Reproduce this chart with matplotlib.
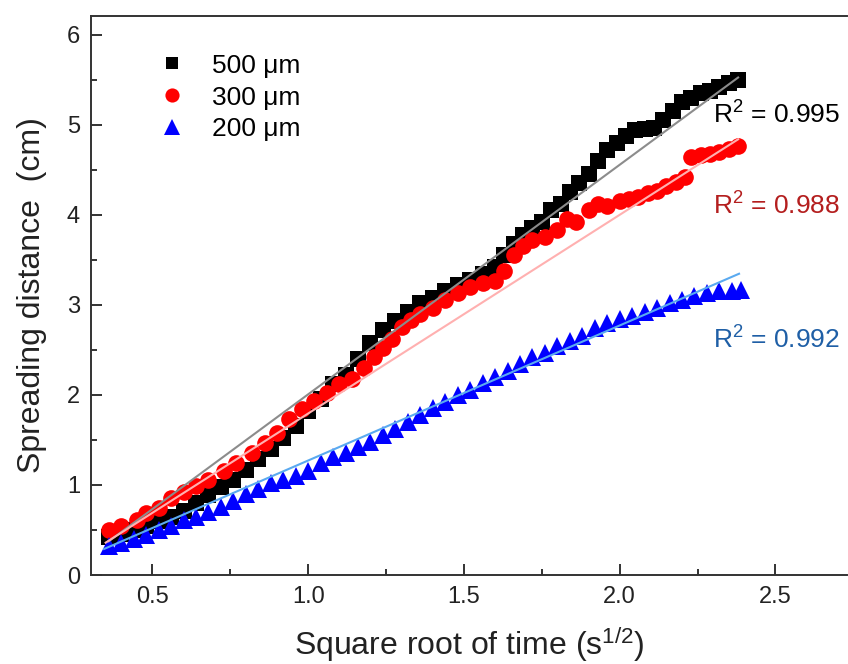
import matplotlib
matplotlib.use("Agg")
import matplotlib.pyplot as plt
import numpy as np
from matplotlib.ticker import MultipleLocator

plt.rcParams['font.family'] = ['Liberation Sans', 'DejaVu Sans']
plt.rcParams['mathtext.fontset'] = 'custom'
plt.rcParams['mathtext.rm'] = 'Liberation Sans'
plt.rcParams['mathtext.it'] = 'Liberation Sans:italic'

# 500 um (black squares)
x_500 = [0.36, 0.40, 0.44, 0.48, 0.52, 0.56, 0.60, 0.64, 0.68, 0.72, 0.76, 0.80,
         0.84, 0.88, 0.92, 0.96, 1.00, 1.04, 1.08, 1.12, 1.16, 1.20, 1.24, 1.28,
         1.32, 1.36, 1.40, 1.44, 1.48, 1.52, 1.56, 1.60, 1.63, 1.66, 1.69, 1.72,
         1.75, 1.78, 1.81, 1.84, 1.87, 1.90, 1.93, 1.96, 1.99, 2.02, 2.05, 2.08,
         2.11, 2.14, 2.17, 2.20, 2.23, 2.26, 2.29, 2.32, 2.35, 2.38]
y_500 = [0.42, 0.46, 0.50, 0.55, 0.60, 0.64, 0.71, 0.80, 0.89, 0.98, 1.06, 1.17,
         1.29, 1.40, 1.52, 1.66, 1.82, 1.96, 2.12, 2.22, 2.40, 2.58, 2.72, 2.82,
         2.92, 3.02, 3.08, 3.15, 3.22, 3.28, 3.34, 3.42, 3.55, 3.68, 3.78, 3.85,
         3.92, 4.05, 4.12, 4.25, 4.35, 4.45, 4.60, 4.72, 4.80, 4.88, 4.94, 4.95,
         4.97, 5.05, 5.15, 5.25, 5.30, 5.35, 5.38, 5.42, 5.47, 5.50]

# 300 um (red circles)
x_300 = [0.36, 0.40, 0.45, 0.48, 0.52, 0.56, 0.60, 0.64, 0.68, 0.73, 0.77, 0.82,
         0.86, 0.90, 0.94, 0.98, 1.02, 1.06, 1.10, 1.14, 1.18, 1.21, 1.24, 1.27,
         1.30, 1.33, 1.36, 1.40, 1.44, 1.48, 1.52, 1.56, 1.60, 1.63, 1.66, 1.69,
         1.72, 1.76, 1.80, 1.83, 1.86, 1.90, 1.93, 1.96, 2.00, 2.03, 2.06, 2.09,
         2.12, 2.15, 2.18, 2.21, 2.23, 2.26, 2.29, 2.32, 2.35, 2.38]
y_300 = [0.50, 0.55, 0.61, 0.69, 0.75, 0.85, 0.92, 0.99, 1.06, 1.16, 1.24, 1.36,
         1.47, 1.58, 1.73, 1.84, 1.93, 2.02, 2.12, 2.18, 2.30, 2.42, 2.52, 2.62,
         2.75, 2.83, 2.90, 2.97, 3.05, 3.13, 3.20, 3.24, 3.27, 3.38, 3.55, 3.65,
         3.72, 3.75, 3.83, 3.95, 3.92, 4.05, 4.12, 4.10, 4.15, 4.18, 4.20, 4.24,
         4.27, 4.32, 4.36, 4.42, 4.64, 4.66, 4.68, 4.70, 4.73, 4.76]

# 200 um (blue triangles)
x_200 = [0.36, 0.40, 0.44, 0.48, 0.52, 0.56, 0.60, 0.64, 0.68, 0.72, 0.76, 0.80,
         0.84, 0.88, 0.92, 0.96, 1.00, 1.04, 1.08, 1.12, 1.16, 1.20, 1.24, 1.28,
         1.32, 1.36, 1.40, 1.44, 1.48, 1.52, 1.56, 1.60, 1.64, 1.68, 1.72, 1.76,
         1.80, 1.84, 1.88, 1.92, 1.96, 2.00, 2.04, 2.08, 2.12, 2.16, 2.20, 2.24,
         2.28, 2.32, 2.36, 2.39]
y_200 = [0.32, 0.36, 0.40, 0.45, 0.50, 0.55, 0.61, 0.65, 0.70, 0.76, 0.82, 0.90,
         0.96, 1.02, 1.05, 1.10, 1.15, 1.24, 1.31, 1.36, 1.42, 1.48, 1.55, 1.62,
         1.70, 1.78, 1.86, 1.92, 2.00, 2.06, 2.13, 2.20, 2.27, 2.34, 2.42, 2.47,
         2.54, 2.60, 2.66, 2.74, 2.80, 2.84, 2.88, 2.92, 2.97, 3.02, 3.06, 3.10,
         3.13, 3.15, 3.16, 3.17]

# linear fits: (slope, intercept, x start, x end)
fit_500 = (2.55, -0.543, 0.36, 2.38)
fit_300 = (2.207, -0.413, 0.35, 2.38)
fit_200 = (1.50, -0.228, 0.345, 2.383)

r2_labels = ["R$^2$ = 0.995", "R$^2$ = 0.988", "R$^2$ = 0.992"]
r2_y = [5.11, 4.10, 2.61]
labels = ["500 μm", "300 μm", "200 μm"]

fig = plt.figure(figsize=(8.48, 6.64), dpi=100)
ax = fig.add_axes([0.1073, 0.134, 0.8917, 0.842])

series = [
    (x_500, y_500, 's', 'black', 11, fit_500, '#8c8c8c', 'black'),
    (x_300, y_300, 'o', 'red', 12, fit_300, '#ffb0b0', '#b41e1e'),
    (x_200, y_200, '^', 'blue', 13, fit_200, '#5aaaf0', '#1f5fa6'),
]

handles = []
for i, (xs, ys, mk, col, ms, fit, fcol, tcol) in enumerate(series):
    h, = ax.plot(xs, ys, linestyle='none', marker=mk, color=col,
                 markersize=ms, markeredgewidth=0, label=labels[i], zorder=2)
    handles.append(h)
    slope, icpt, x0, x1 = fit
    xf = np.array([x0, x1])
    ax.plot(xf, slope * xf + icpt, color=fcol, linewidth=1.5, zorder=3)
    ax.text(2.30, r2_y[i], r2_labels[i], color=tcol, fontsize=19,
            va='center', ha='left')

ax.set_xlim(0.303, 2.73)
ax.set_ylim(0, 6.21)
ax.xaxis.set_major_locator(MultipleLocator(0.5))
ax.xaxis.set_minor_locator(MultipleLocator(0.25))
ax.yaxis.set_major_locator(MultipleLocator(1))
ax.yaxis.set_minor_locator(MultipleLocator(0.5))
ax.set_xticks([0.5, 1.0, 1.5, 2.0, 2.5])
ax.set_xticklabels(["0.5", "1.0", "1.5", "2.0", "2.5"])

ax.tick_params(which='both', direction='in', top=False, right=False,
               colors='#333333', width=1.4, labelsize=17, labelcolor='#222222')
ax.tick_params(which='major', length=8, pad=8)
ax.tick_params(which='minor', length=4)
for side in ['left', 'bottom', 'top']:
    ax.spines[side].set_linewidth(1.4)
    ax.spines[side].set_color('#333333')
ax.spines['right'].set_visible(False)

ax.set_xlabel("Square root of time (s$^{1/2}$)", fontsize=23, color='#222222',
              labelpad=12)
ax.set_ylabel("Spreading distance  (cm)", fontsize=23, color='#222222',
              labelpad=14)

leg = ax.legend(handles=handles, loc='upper left', bbox_to_anchor=(0.055, 0.975),
                frameon=False, fontsize=19, handletextpad=0.9,
                labelspacing=0.3, handlelength=1.2, markerscale=0.85)

fig.savefig("out.png", dpi=100)
